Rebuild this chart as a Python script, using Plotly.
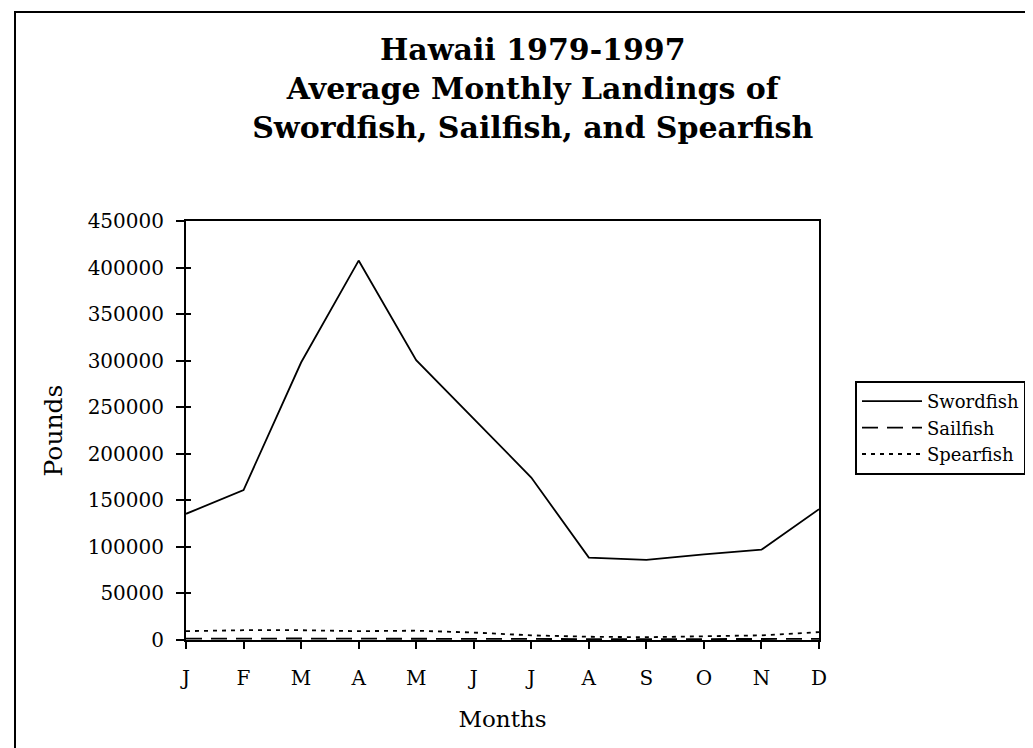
import plotly.graph_objects as go

# month labels and average monthly landings (pounds)
months = ["J", "F", "M", "A", "M", "J", "J", "A", "S", "O", "N", "D"]
swordfish = [135500, 161000, 298000, 407500, 300500, 237000, 174500, 88500, 86000, 92000, 97000, 140500]
sailfish = [1500, 1800, 1600, 1400, 1500, 1300, 1200, 900, 800, 1000, 1100, 1300]
spearfish = [9500, 10500, 10500, 9500, 10000, 8000, 5000, 3500, 3000, 4000, 5000, 8500]
ytick_vals = [0, 50000, 100000, 150000, 200000, 250000, 300000, 350000, 400000, 450000]

x = list(range(len(months)))
serif = "DejaVu Serif"

fig = go.Figure()
fig.add_trace(go.Scatter(x=x, y=swordfish, name="Swordfish", mode="lines",
                         line=dict(color="black", width=1.8)))
fig.add_trace(go.Scatter(x=x, y=sailfish, name="Sailfish", mode="lines",
                         line=dict(color="black", width=1.8, dash="16px,9px")))
fig.add_trace(go.Scatter(x=x, y=spearfish, name="Spearfish", mode="lines",
                         line=dict(color="black", width=1.8, dash="4px,5px")))

fig.update_layout(
    width=1033, height=748,
    margin=dict(l=178, r=222, t=213, b=116),
    paper_bgcolor="white", plot_bgcolor="white",
    font=dict(family=serif, color="black", size=20),
    title=dict(
        text="<b>Hawaii 1979-1997<br>Average Monthly Landings of<br>Swordfish, Sailfish, and Spearfish</b>",
        font=dict(family=serif, size=30, color="black"),
        x=0.508, xref="container", xanchor="center",
        y=1 - 52 / 748, yref="container", yanchor="top",
    ),
    xaxis=dict(
        range=[0, 11], tickmode="array", tickvals=x, ticktext=months,
        showline=True, linecolor="black", linewidth=2, mirror=True,
        ticks="outside", ticklen=7, tickwidth=1.5, tickcolor="black",
        showgrid=False, zeroline=False, ticklabelstandoff=12,
        title=dict(text="Months", font=dict(size=23), standoff=22),
    ),
    yaxis=dict(
        range=[0, 450000], tickmode="array", tickvals=ytick_vals,
        ticktext=[str(v) for v in ytick_vals],
        showline=True, linecolor="black", linewidth=2, mirror=True,
        ticks="outside", ticklen=8, tickwidth=1.5, tickcolor="black",
        showgrid=False, zeroline=False, ticklabelstandoff=8,
        title=dict(text="Pounds", font=dict(size=25), standoff=18),
    ),
    yaxis2=dict(
        range=[0, 450000], tickmode="array", tickvals=ytick_vals,
        overlaying="y", side="left", showticklabels=False,
        ticks="inside", ticklen=5, tickwidth=1.5, tickcolor="black",
        showgrid=False, zeroline=False, showline=False,
    ),
    legend=dict(
        x=(847 - 178) / 633, xanchor="left",
        y=(632 - 373) / 419, yanchor="top",
        bgcolor="white", bordercolor="black", borderwidth=2,
        font=dict(family=serif, size=18, color="black"),
        itemwidth=60, tracegroupgap=0,
    ),
    shapes=[dict(type="rect", xref="paper", yref="paper",
                 x0=(7 - 178) / 633, x1=(1022 - 178) / 633,
                 y0=(632 - 746) / 419, y1=(632 - 4) / 419,
                 line=dict(color="black", width=2), layer="below")],
)

# invisible trace to activate the overlay axis carrying the inside tick marks
fig.add_trace(go.Scatter(x=[None], y=[None], yaxis="y2", showlegend=False, hoverinfo="skip"))

fig.write_html("out.html")
